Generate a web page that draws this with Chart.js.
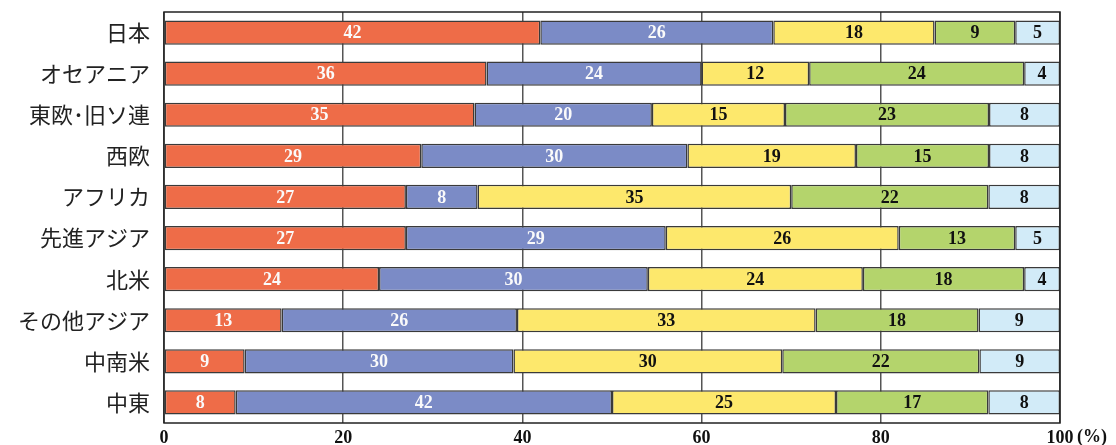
<!DOCTYPE html>
<html>
<head>
<meta charset="utf-8">
<script src="https://cdn.jsdelivr.net/npm/chart.js@4"></script>
<style>
  html, body { margin: 0; padding: 0; background: #fff; }
  #wrap { width: 1116px; height: 445px; }
</style>
</head>
<body>
<div id="wrap"><canvas id="chart" width="1116" height="445"></canvas></div>
<script>
// 地域ごとの構成比 (%)
const regions = ['日本', 'オセアニア', '東欧･旧ソ連', '西欧', 'アフリカ', '先進アジア', '北米', 'その他アジア', '中南米', '中東'];
const part1 = [42, 36, 35, 29, 27, 27, 24, 13, 9, 8];
const part2 = [26, 24, 20, 30, 8, 29, 30, 26, 30, 42];
const part3 = [18, 12, 15, 19, 35, 26, 24, 33, 30, 25];
const part4 = [9, 24, 23, 15, 22, 13, 18, 18, 22, 17];
const part5 = [5, 4, 8, 8, 8, 5, 4, 9, 9, 8];
const xTicks = [0, 20, 40, 60, 80, 100];

const colors = ['#ee6c48', '#7b8bc6', '#fde86c', '#b4d46c', '#d2ebf8'];
const labelColors = ['#fafafa', '#fafafa', '#111', '#111', '#111'];

const parts = [part1, part2, part3, part4, part5];
// 行ごとの合計で100%に揃える（表示ラベルは元の値）
const totals = regions.map((_, j) => parts.reduce((s, p) => s + p[j], 0));

// ラベル描画プラグイン
const barLabels = {
  id: 'barLabels',
  afterDatasetsDraw(chart) {
    const ctx = chart.ctx;
    ctx.save();
    ctx.font = 'bold 18px "Liberation Serif", serif';
    ctx.textAlign = 'center';
    ctx.textBaseline = 'middle';
    chart.data.datasets.forEach((ds, i) => {
      const meta = chart.getDatasetMeta(i);
      ctx.fillStyle = labelColors[i];
      meta.data.forEach((bar, j) => {
        const cx = (bar.base + bar.x) / 2;
        ctx.fillText(String(parts[i][j]), cx, bar.y + 1);
      });
    });
    // 枠線
    const a = chart.chartArea;
    ctx.strokeStyle = '#222';
    ctx.lineWidth = 1.5;
    ctx.strokeRect(a.left, a.top, a.right - a.left, a.bottom - a.top);
    // 単位
    ctx.fillStyle = '#111';
    ctx.textAlign = 'left';
    ctx.fillText('(%)', a.right + 17, a.bottom + 14);
    ctx.restore();
  }
};

new Chart(document.getElementById('chart'), {
  type: 'bar',
  data: {
    labels: regions,
    datasets: parts.map((d, i) => ({
      data: d.map((v, j) => v / totals[j] * 100),
      backgroundColor: colors[i],
      borderColor: '#3a3a3a',
      borderWidth: 1.5,
      borderSkipped: false,
      barPercentage: 0.59,
      categoryPercentage: 1
    }))
  },
  options: {
    indexAxis: 'y',
    responsive: false,
    animation: false,
    layout: { padding: { top: 12, right: 56, left: 0, bottom: 0 } },
    plugins: { legend: { display: false }, tooltip: { enabled: false } },
    scales: {
      x: {
        stacked: true,
        min: 0,
        max: 100,
        afterBuildTicks(scale) { scale.ticks = xTicks.map(v => ({ value: v })); },
        afterFit(scale) { scale.height = 22; },
        grid: { color: '#555', lineWidth: 1.5, drawTicks: false },
        border: { display: false },
        ticks: {
          padding: 5,
          color: '#111',
          font: { family: '"Liberation Serif", serif', size: 18, weight: 'bold' }
        }
      },
      y: {
        stacked: true,
        afterFit(scale) {
          scale.width = 164;
          scale.paddingTop = 0;
          scale.paddingBottom = 0;
        },
        grid: { display: false, drawTicks: false },
        border: { display: false },
        ticks: {
          padding: 14,
          color: '#222',
          font: { family: '"Noto Sans CJK JP", sans-serif', size: 22 }
        }
      }
    }
  },
  plugins: [barLabels]
});
</script>
</body>
</html>
